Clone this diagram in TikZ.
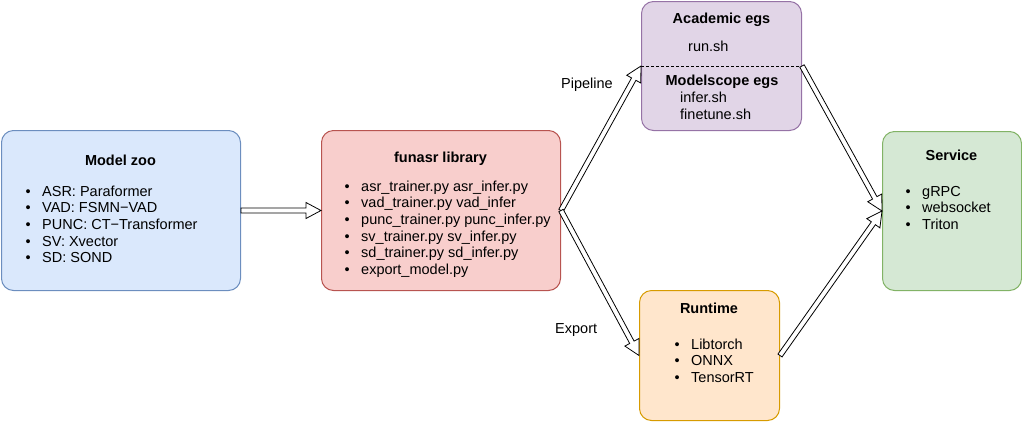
\documentclass[tikz,border=0pt]{standalone}
\usepackage{fontspec}
\setmainfont{Liberation Sans}
\usetikzlibrary{calc}
\definecolor{zooF}{HTML}{DAE8FC}\definecolor{zooD}{HTML}{6C8EBF}
\definecolor{libF}{HTML}{F8CECC}\definecolor{libD}{HTML}{B85450}
\definecolor{acaF}{HTML}{E1D5E7}\definecolor{acaD}{HTML}{9673A6}
\definecolor{runF}{HTML}{FFE6CC}\definecolor{runD}{HTML}{D79B00}
\definecolor{srvF}{HTML}{D5E8D4}\definecolor{srvD}{HTML}{82B366}
\newcommand\fsz{\fontsize{14.5}{16.7}\selectfont}
\newcommand\bul{\makebox[16.5pt][l]{\textbullet}}
\newcommand\flexarrow[2]{%
  \draw[flex] ($(#1)!2.5pt!90:(#2)$)
    -- ($(#2)!15pt!(#1)!2.5pt!-90:(#1)$)
    -- ($(#2)!15pt!(#1)!8pt!-90:(#1)$)
    -- (#2)
    -- ($(#2)!15pt!(#1)!8pt!90:(#1)$)
    -- ($(#2)!15pt!(#1)!2.5pt!90:(#1)$)
    -- ($(#1)!2.5pt!-90:(#2)$) -- cycle;}
\tikzset{
  box/.style={draw, line width=1pt, rounded corners=12pt, anchor=north west, inner sep=0pt},
  ttl/.style={font={\fsz\bfseries}, anchor=base, inner sep=0pt},
  lst/.style={font=\fsz, anchor=base west, inner sep=0pt},
  lbl/.style={font=\fsz, anchor=base west, inner sep=0pt},
  flex/.style={draw=black, fill=white, line width=0.8pt, line join=miter},
}
\begin{document}
\begin{tikzpicture}[x=1pt, y=-1pt]
\useasboundingbox (0,0) rectangle (1022,421);
% boxes
\node[box, draw=zooD, fill=zooF, minimum width=239pt, minimum height=160pt] (zoo) at (1,130) {};
\node[box, draw=libD, fill=libF, minimum width=239pt, minimum height=160pt] (lib) at (321,130) {};
\node[box, draw=acaD, fill=acaF, minimum width=160pt, minimum height=129pt] (aca) at (641,1) {};
\node[box, draw=runD, fill=runF, minimum width=140pt, minimum height=130pt] (run) at (639,290) {};
\node[box, draw=srvD, fill=srvF, minimum width=139pt, minimum height=159pt] (srv) at (882,131) {};
\draw[black, line width=0.8pt, dash pattern=on 3pt off 2pt] (aca.west) -- (aca.east);
% Model zoo
\node[ttl] (zooT) at (120.5,165) {Model zoo};
\node[lst] (zooL) at (25.5,196) {\begin{tabular}[t]{@{}l@{}}
\bul ASR: Paraformer\\
\bul VAD: FSMN\textminus VAD\\
\bul PUNC: CT\textminus Transformer\\
\bul SV: Xvector\\
\bul SD: SOND
\end{tabular}};
% funasr library
\node[ttl] (libT) at (440.5,162) {funasr library};
\node[lst] (libL) at (344.5,191) {\begin{tabular}[t]{@{}l@{}}
\bul asr\_trainer.py asr\_infer.py\\
\bul vad\_trainer.py vad\_infer\\
\bul punc\_trainer.py punc\_infer.py\\
\bul sv\_trainer.py sv\_infer.py\\
\bul sd\_trainer.py sd\_infer.py\\
\bul export\_model.py
\end{tabular}};
% Academic egs
\node[ttl] (acaT) at (721.5,23) {Academic egs};
\node[lbl] (acaR) at (688,51) {run.sh};
\node[ttl] (msT) at (722,85) {Modelscope egs};
\node[lbl] (msI) at (680,102) {infer.sh};
\node[lbl] (msF) at (680,119) {finetune.sh};
% Runtime
\node[ttl] (runT) at (709,313) {Runtime};
\node[lst] (runL) at (674.5,349) {\begin{tabular}[t]{@{}l@{}}
\bul Libtorch\\
\bul ONNX\\
\bul TensorRT
\end{tabular}};
% Service
\node[ttl] (srvT) at (951.5,160) {Service};
\node[lst] (srvL) at (905.5,196) {\begin{tabular}[t]{@{}l@{}}
\bul gRPC\\
\bul websocket\\
\bul Triton
\end{tabular}};
% labels
\node[lbl] (pipe) at (561,88) {Pipeline};
\node[lbl] (expo) at (555,333) {Export};
% arrows
\flexarrow{zoo.east}{lib.west}
\flexarrow{lib.east}{aca.west}
\flexarrow{lib.east}{run.west}
\flexarrow{aca.east}{srv.west}
\flexarrow{run.east}{srv.west}
\end{tikzpicture}
\end{document}
